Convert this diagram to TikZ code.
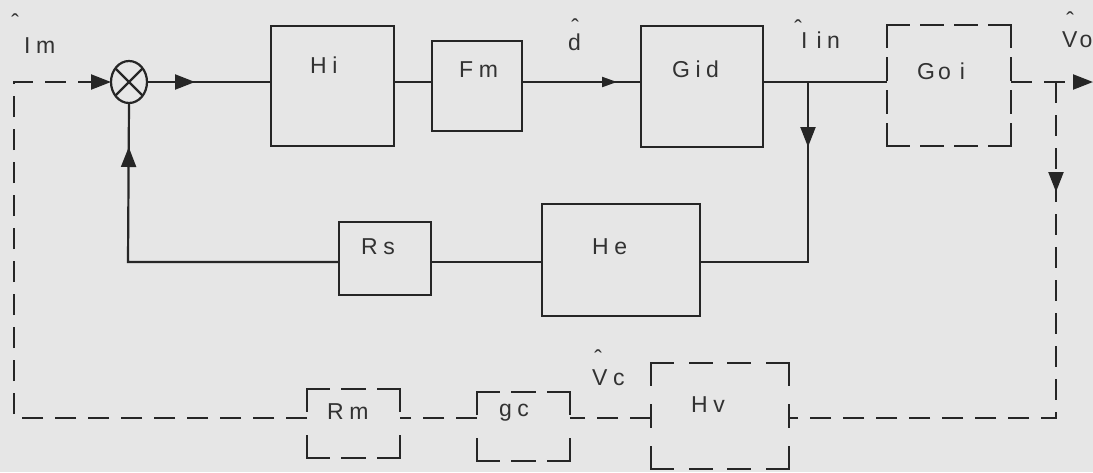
\documentclass[tikz,border=0pt]{standalone}
\usepackage{fontspec}
\setmainfont{Liberation Sans}
\usetikzlibrary{arrows.meta,shapes.geometric,decorations.markings}
\definecolor{bgc}{RGB}{230,230,230}
\definecolor{ink}{RGB}{38,38,38}
\definecolor{txt}{RGB}{50,50,50}
\newcommand\gk{\kern5.5pt}
\newcommand\hatat[2]{\rlap{\kern#1\makebox[0pt][c]{\raisebox{#2}{ˆ}}}}
\newcommand\dside[3]{%
  \pgfmathsetmacro\dsn{max(2,round((#3+12)/34))}%
  \pgfmathsetmacro\dsg{(#3-\dsn*22)/(\dsn-1)}%
  \draw[dline,dash pattern=on 22pt off \dsg pt] (#1) -- (#2);}
\newcommand\dboxsides[3]{% name, width, height
  \dside{#1.north west}{#1.north east}{#2}%
  \dside{#1.south west}{#1.south east}{#2}%
  \dside{#1.north west}{#1.south west}{#3}%
  \dside{#1.north east}{#1.south east}{#3}}
\begin{document}
\begin{tikzpicture}[x=1pt,y=-1pt,
  bigarr/.tip={Triangle[length=20pt,width=15pt]},
  smallarr/.tip={Triangle[length=15pt,width=10pt]},
  ln/.style={draw=ink,line width=2.2pt},
  box/.style={draw=ink,line width=2.4pt,inner sep=0pt,outer sep=0pt},
  dbx/.style={inner sep=0pt,outer sep=0pt},
  dline/.style={draw=ink,line width=2.2pt,line cap=rect},
  dconn/.style={draw=ink,line width=2.2pt,dash pattern=on 21pt off 12pt},
  lbl/.style={text=txt,font=\fontsize{23}{25}\selectfont,inner sep=0pt,anchor=base west},
  arrat/.style={postaction={decorate},decoration={markings,mark=at position #1 with {\arrow{bigarr}}}},
  arrsm/.style={postaction={decorate},decoration={markings,mark=at position #1 with {\arrow{smallarr}}}},
]
\fill[bgc] (0,0) rectangle (1093,472);
\useasboundingbox (0,0) rectangle (1093,472);

% summing junction
\node[ellipse,draw=ink,line width=2.2pt,minimum width=36pt,minimum height=42pt,inner sep=0pt,outer sep=0pt] (sum) at (129,82) {};
\draw[ln] (sum.135) -- (sum.-45) (sum.45) -- (sum.-135);

% solid blocks
\node[box,minimum width=123pt,minimum height=120pt] (hi) at (332.5,86) {};
\node[box,minimum width=90pt,minimum height=90pt] (fm) at (477,86) {};
\node[box,minimum width=122pt,minimum height=121pt] (gid) at (702,86.5) {};
\node[box,minimum width=92pt,minimum height=73pt] (rs) at (385,258.5) {};
\node[box,minimum width=158pt,minimum height=112pt] (he) at (621,260) {};

% dashed blocks
\node[dbx,minimum width=124pt,minimum height=121pt] (goi) at (949,85.5) {};
\node[dbx,minimum width=93pt,minimum height=69pt] (rm) at (353.5,423.5) {};
\node[dbx,minimum width=93pt,minimum height=69pt] (gc) at (523.5,426.5) {};
\node[dbx,minimum width=138pt,minimum height=106pt] (hv) at (720,416) {};
\dboxsides{goi}{124}{121}
\dboxsides{rm}{93}{69}
\dboxsides{gc}{93}{69}
\dboxsides{hv}{138}{106}

% block texts
\node[lbl] (hiT) at (310,73) {H\gk i};
\node[lbl] (fmT) at (459,77) {F\gk m};
\node[lbl] (gidT) at (672,77) {G\gk i\gk d};
\node[lbl] (goiT) at (917,79) {G\kern3pt o\kern9pt i};
\node[lbl] (rsT) at (361,254) {R\gk s};
\node[lbl] (heT) at (592,254) {H\gk e};
\node[lbl] (rmT) at (327,419) {R\gk m};
\node[lbl] (gcT) at (499,416) {g\gk c};
\node[lbl] (hvT) at (691,412) {H\gk v};

% signal labels (with hats)
\node[lbl] (imT) at (24,53) {\hatat{-9pt}{23pt}I\gk m};
\node[lbl] (dT) at (568,50) {\hatat{7pt}{15pt}d};
\node[lbl] (iinT) at (801,48) {\hatat{-3pt}{12pt}I\kern9pt i\gk n};
\node[lbl] (voT) at (1062,47) {\hatat{8pt}{19pt}V\kern2pt o};
\node[lbl] (vcT) at (592,385) {\hatat{6pt}{19pt}V\gk c};

% helper coordinates
\coordinate (m0) at (0,82);
\coordinate (fb0) at (0,262);
\coordinate (br1) at (808,82);
\coordinate (br1b) at (808,262);
\coordinate (fbl) at (128,262);
\coordinate (br2) at (1056,82);
\coordinate (c1) at (1056,418);
\coordinate (c2) at (14,418);
\coordinate (c3) at (14,82);
\coordinate (out) at (1093,82);

% solid connectors
\draw[ln,arrat=48pt] (sum.east) -- (hi.west |- m0);
\draw[ln] (hi.east |- m0) -- (fm.west |- m0);
\draw[ln,arrsm=95pt] (fm.east |- m0) -- (gid.west |- m0);
\draw[ln] (gid.east |- m0) -- (goi.west |- m0);
\draw[ln,arrat=65pt] (br1) -- (br1b) -- (he.east |- fb0);
\draw[ln] (he.west |- fb0) -- (rs.east |- fb0);
\draw[ln,arrat=-44pt] (rs.west |- fb0) -- (fbl) -- (sum.south);

% dashed connectors
\draw[dconn,-{bigarr}] (goi.east |- m0) -- (out);
\draw[dconn,arrat=110pt] (br2) -- (c1) -- (hv.east |- c1);
\draw[dconn] (hv.west |- c1) -- (gc.east |- c1);
\draw[dconn] (gc.west |- c1) -- (rm.east |- c1);
\draw[dconn,-{bigarr}] (rm.west |- c1) -- (c2) -- (c3) -- (sum.west);
\end{tikzpicture}
\end{document}
